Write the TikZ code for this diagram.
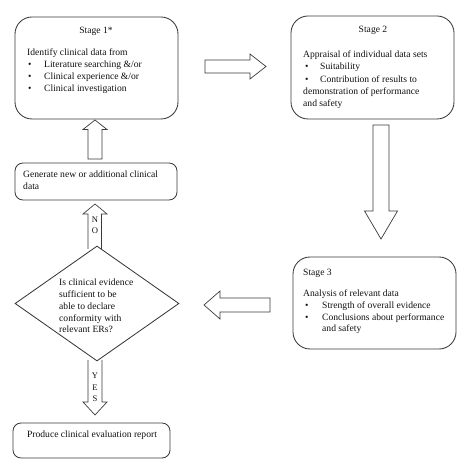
\documentclass[tikz,border=0pt]{standalone}
\usepackage{fontspec}
\setmainfont{Liberation Serif}
\usetikzlibrary{shapes.geometric}
\definecolor{ln}{HTML}{3A3A3A}
\definecolor{tx}{HTML}{111111}
\tikzset{
  box/.style={draw=ln, line width=0.85pt, rounded corners=17pt, inner sep=0pt, fill=white},
  sbox/.style={draw=ln, line width=0.85pt, rounded corners=8pt, inner sep=0pt, fill=white},
  dia/.style={draw=ln, line width=0.85pt, diamond, inner sep=0pt, fill=white},
  blk/.style={draw=ln, line width=0.7pt, fill=white, line join=miter},
  t/.style={anchor=base west, inner sep=0pt, text=tx, font=\fontsize{9.6}{11.6}\selectfont},
  tc/.style={anchor=base, inner sep=0pt, text=tx, font=\fontsize{9.6}{11.6}\selectfont},
  lt/.style={anchor=base, inner sep=0pt, text=tx, font=\fontsize{8.6}{10}\selectfont},
}
\begin{document}
\begin{tikzpicture}[x=1pt,y=-1pt]
\useasboundingbox (0,0) rectangle (474,470);
% boxes
\node[box, minimum width=163pt, minimum height=102pt] (s1) at (96.5,68) {};
\node[box, minimum width=163pt, minimum height=103pt] (s2) at (372.5,67.5) {};
\node[box, minimum width=163pt, minimum height=92pt] (s3) at (374.5,303) {};
\node[sbox, minimum width=162pt, minimum height=37pt] (gen) at (96,181.5) {};
\node[sbox, minimum width=157pt, minimum height=35pt] (prod) at (91.5,440.5) {};
% block arrows
\draw[blk] (205,60) -- (250,60) -- (250,54) -- (266,66.5) -- (250,79) -- (250,73) -- (205,73) -- cycle;
\draw[blk] (373,125) -- (389,125) -- (389,211) -- (397.5,211) -- (381,239) -- (364.5,211) -- (373,211) -- cycle;
\draw[blk] (270,298) -- (220,298) -- (220,291) -- (204,305) -- (220,319) -- (220,312) -- (270,312) -- cycle;
\draw[blk] (88,159) -- (88,129.5) -- (83,129.5) -- (95,120) -- (107,129.5) -- (102,129.5) -- (102,159) -- cycle;
\draw[blk] (88,249) -- (88,214) -- (83,214) -- (95,204) -- (107,214) -- (101.5,214) -- (101.5,249);
\draw[blk] (88,360) -- (88,402) -- (83,402) -- (95,415) -- (107,402) -- (102,402) -- (102,360);
% diamond
\node[dia, minimum width=164pt, minimum height=115pt] (d) at (97,303.5) {};
% Stage 1 text
\node[tc] (s1h) at (96,34) {Stage 1*};
\node[t] (s1a) at (27,56) {Identify clinical data from};
\node[t] (s1b1) at (28,68) {\textbullet};
\node[t] (s1b) at (44,68) {Literature searching \&/or};
\node[t] (s1c1) at (28,80) {\textbullet};
\node[t] (s1c) at (44,80) {Clinical experience \&/or};
\node[t] (s1d1) at (28,91.5) {\textbullet};
\node[t] (s1d) at (44,91.5) {Clinical investigation};
% Stage 2 text
\node[tc] (s2h) at (373,33) {Stage 2};
\node[t] (s2a) at (303,58) {Appraisal of individual data sets};
\node[t] (s2b1) at (305,69.5) {\textbullet};
\node[t] (s2b) at (320,69.5) {Suitability};
\node[t] (s2c1) at (305,83) {\textbullet};
\node[t] (s2c) at (320,83) {Contribution of results to};
\node[t] (s2d) at (303,95) {demonstration of performance};
\node[t] (s2e) at (303,106.5) {and safety};
% Stage 3 text
\node[t] (s3h) at (303,276) {Stage 3};
\node[t] (s3a) at (303,297) {Analysis of relevant data};
\node[t] (s3b1) at (305,309) {\textbullet};
\node[t] (s3b) at (322,309) {Strength of overall evidence};
\node[t] (s3c1) at (305,320.5) {\textbullet};
\node[t] (s3c) at (322,320.5) {Conclusions about performance};
\node[t] (s3d) at (322,332) {and safety};
% generate text
\node[t] (g1) at (23,178) {Generate new or additional clinical};
\node[t] (g2) at (23,189.5) {data};
% diamond text
\node[t] (q1) at (59,286) {Is clinical evidence};
\node[t] (q2) at (59,298) {sufficient to be};
\node[t] (q3) at (59,310) {able to declare};
\node[t] (q4) at (59,321.5) {conformity with};
\node[t] (q5) at (59,333) {relevant ERs?};
% produce text
\node[tc] (p1) at (92,437) {Produce clinical evaluation report};
% NO / YES
\node[lt] (n1) at (95,223) {N};
\node[lt] (n2) at (95,233.5) {O};
\node[lt] (y1) at (95,378.5) {Y};
\node[lt] (y2) at (95,390) {E};
\node[lt] (y3) at (95,401) {S};
\end{tikzpicture}
\end{document}
